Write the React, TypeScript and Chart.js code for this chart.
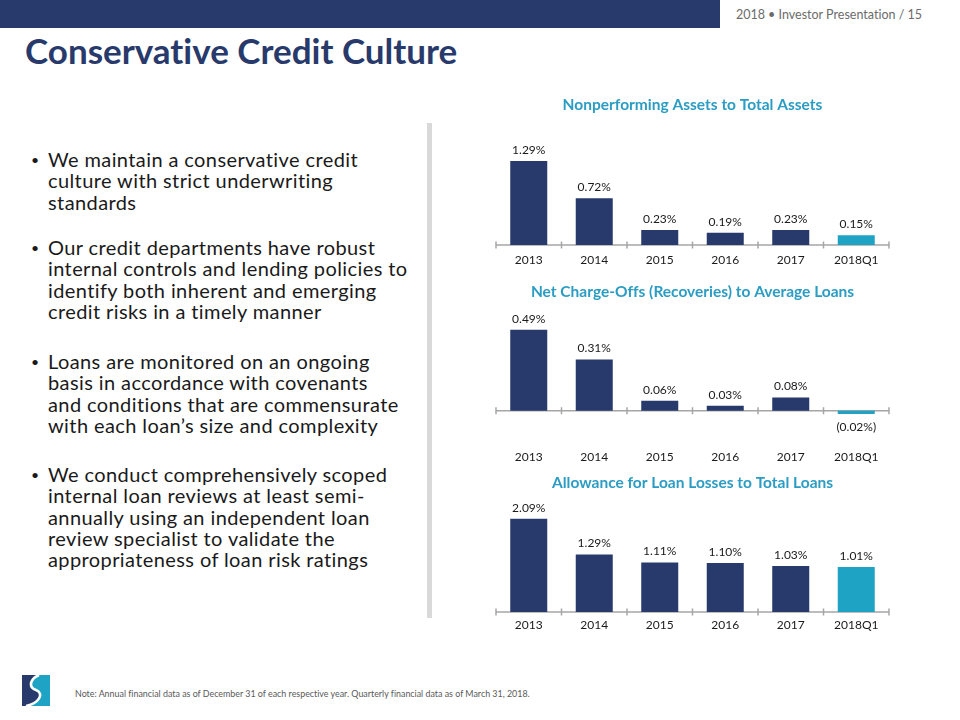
import React, { useEffect, useRef } from "react";
import { Chart, registerables } from "chart.js";

Chart.register(...registerables);

// ---- data ----
const categories = ["2013", "2014", "2015", "2016", "2017", "2018Q1"];
const npaValues = [1.29, 0.72, 0.23, 0.19, 0.23, 0.15];
const ncoValues = [0.49, 0.31, 0.06, 0.03, 0.08, -0.02];
const allowanceValues = [2.09, 1.29, 1.11, 1.1, 1.03, 1.01];
const npaTitle = "Nonperforming Assets to Total Assets";
const ncoTitle = "Net Charge-Offs (Recoveries) to Average Loans";
const allowanceTitle = "Allowance for Loan Losses to Total Loans";
const slideTitle = "Conservative Credit Culture";
const headerText = "2018 \u2022 Investor Presentation / 15";
const noteText =
  "Note: Annual financial data as of December 31 of each respective year. Quarterly financial data as of March 31, 2018.";
const bullets: string[][] = [
  ["We maintain a conservative credit", "culture with strict underwriting", "standards"],
  [
    "Our credit departments have robust",
    "internal controls and lending policies to",
    "identify both inherent and emerging",
    "credit risks in a timely manner",
  ],
  [
    "Loans are monitored on an ongoing",
    "basis in accordance with covenants",
    "and conditions that are commensurate",
    "with each loan\u2019s size and complexity",
  ],
  [
    "We conduct comprehensively scoped",
    "internal loan reviews at least semi-",
    "annually using an independent loan",
    "review specialist to validate the",
    "appropriateness of loan risk ratings",
  ],
];
const bulletTops = [149, 237, 351, 464];

// ---- styles ----
const NAVY = "#283a6b";
const TEAL = "#1fa3c5";
const TITLE_TEAL = "#2b9cc3";
const FONT = "Lato, 'Open Sans', sans-serif";
const barColors = categories.map((c) => (c === "2018Q1" ? TEAL : NAVY));

const fmt = (v: number) => (v < 0 ? `(${Math.abs(v).toFixed(2)}%)` : `${v.toFixed(2)}%`);

const valueLabelPlugin = {
  id: "valueLabels",
  afterDatasetsDraw(chart: any) {
    const { ctx } = chart;
    const meta = chart.getDatasetMeta(0);
    const data = chart.data.datasets[0].data as number[];
    ctx.save();
    ctx.font = `12px ${FONT}`;
    ctx.fillStyle = "#1a1a1a";
    ctx.textAlign = "center";
    ctx.textBaseline = "middle";
    meta.data.forEach((bar: any, i: number) => {
      const v = data[i];
      const y = v >= 0 ? bar.y - 11 : bar.y + 13;
      ctx.fillText(fmt(v), bar.x, y);
    });
    ctx.restore();
  },
};

const baselinePlugin = {
  id: "baseline",
  beforeDatasetsDraw(chart: any) {
    const { ctx, chartArea } = chart;
    const xs = chart.scales.x;
    const ys = chart.scales.y;
    const y0 = ys.getPixelForValue(0);
    const half = (xs.getPixelForValue(1) - xs.getPixelForValue(0)) / 2;
    ctx.save();
    ctx.strokeStyle = "#a6a6a6";
    ctx.lineWidth = 1.5;
    ctx.beginPath();
    ctx.moveTo(chartArea.left, y0);
    ctx.lineTo(chartArea.right, y0);
    for (let i = 0; i <= categories.length; i++) {
      const x = xs.getPixelForValue(0) - half + i * 2 * half;
      ctx.moveTo(x, y0 - 3.5);
      ctx.lineTo(x, y0 + 3.5);
    }
    ctx.stroke();
    ctx.restore();
  },
};

type BoxProps = {
  values: number[];
  title: string;
  top: number;
  height: number;
  yMin: number;
  yMax: number;
  titleTop: number;
  titleBottom: number;
  tickPad: number;
};

function BarBox({ values, title, top, height, yMin, yMax, titleTop, titleBottom, tickPad }: BoxProps) {
  const ref = useRef<HTMLCanvasElement>(null);
  useEffect(() => {
    if (!ref.current) return;
    const chart = new Chart(ref.current, {
      type: "bar",
      data: {
        labels: categories,
        datasets: [
          {
            data: values,
            backgroundColor: barColors,
            borderWidth: 0,
            categoryPercentage: 1,
            barPercentage: 0.565,
          },
        ],
      },
      options: {
        animation: false,
        responsive: false,
        devicePixelRatio: 1,
        layout: { padding: { left: 16, right: 15, top: 0, bottom: 2 } },
        plugins: {
          legend: { display: false },
          tooltip: { enabled: false },
          title: {
            display: true,
            text: title,
            color: TITLE_TEAL,
            font: { family: FONT, size: 15.5, weight: "bold", lineHeight: "18px" },
            padding: { top: titleTop, bottom: titleBottom },
          },
        },
        scales: {
          x: {
            grid: { display: false, drawTicks: false },
            border: { display: false },
            ticks: {
              color: "#1a1a1a",
              padding: tickPad,
              font: { family: FONT, size: 12, lineHeight: "16px" },
              maxRotation: 0,
            },
          },
          y: { display: false, min: yMin, max: yMax },
        },
      },
      plugins: [baselinePlugin, valueLabelPlugin],
    });
    return () => chart.destroy();
  }, []);
  return (
    <canvas
      ref={ref}
      width={424}
      height={height}
      style={{ position: "absolute", left: 480, top, width: 424, height }}
    />
  );
}

function Logo() {
  return (
    <svg width={28} height={31} viewBox="0 0 28 31" style={{ position: "absolute", left: 22, top: 675 }}>
      <rect x={0} y={0} width={28} height={31} fill={NAVY} />
      <path d="M17 0 H28 V31 H4 C18 28 22 18 14 15 C6 12 8 4 17 0 Z" fill={TEAL} />
      <path d="M17 0 C8 4 6 12 14 15 C22 18 18 28 4 31" stroke="#fff" strokeWidth={2.6} fill="none" />
    </svg>
  );
}

export default function App() {
  return (
    <div
      style={{
        position: "fixed",
        left: 0,
        top: 0,
        width: 960,
        height: 720,
        background: "#fff",
        overflow: "hidden",
        fontFamily: FONT,
        fontVariantLigatures: "none",
      }}
    >
      <div style={{ position: "absolute", left: 0, top: 0, width: 720, height: 28, background: NAVY }} />
      <div
        style={{
          position: "absolute",
          right: 38,
          top: 7,
          fontSize: 12.5,
          color: "#6b6b6b",
          lineHeight: "16px",
          whiteSpace: "nowrap",
        }}
      >
        {headerText}
      </div>
      <div
        style={{
          position: "absolute",
          left: 25,
          top: 28,
          fontSize: 35,
          fontWeight: 700,
          color: NAVY,
          lineHeight: "44px",
          whiteSpace: "nowrap",
        }}
      >
        {slideTitle}
      </div>
      {bullets.map((lines, bi) => (
        <div key={bi} style={{ position: "absolute", left: 0, top: bulletTops[bi] }}>
          <div
            style={{
              position: "absolute",
              left: 31,
              top: 0,
              fontSize: 14,
              lineHeight: "21.3px",
              color: "#1a1a1a",
            }}
          >
            {"\u2022"}
          </div>
          {lines.map((ln, li) => (
            <div
              key={li}
              style={{
                position: "absolute",
                left: 48,
                top: li * 21.3,
                fontSize: 20,
                letterSpacing: 0.4,
                lineHeight: "21.3px",
                color: "#1a1a1a",
                whiteSpace: "nowrap",
              }}
            >
              {ln}
            </div>
          ))}
        </div>
      ))}
      <div style={{ position: "absolute", left: 427, top: 123, width: 5, height: 495, background: "#d9d9d9" }} />
      <BarBox values={npaValues} title={npaTitle} top={90} height={187} yMin={0} yMax={1.69} titleTop={6} titleBottom={21} tickPad={7} />
      <BarBox values={ncoValues} title={ncoTitle} top={276} height={200} yMin={-0.177} yMax={0.621} titleTop={7} titleBottom={7} tickPad={9} />
      <BarBox values={allowanceValues} title={allowanceTitle} top={470} height={170} yMin={0} yMax={2.62} titleTop={4} titleBottom={3} tickPad={5} />
      <Logo />
      <div
        style={{
          position: "absolute",
          left: 75,
          top: 688,
          fontSize: 8.9,
          color: "#595959",
          lineHeight: "12px",
          whiteSpace: "nowrap",
        }}
      >
        {noteText}
      </div>
    </div>
  );
}
